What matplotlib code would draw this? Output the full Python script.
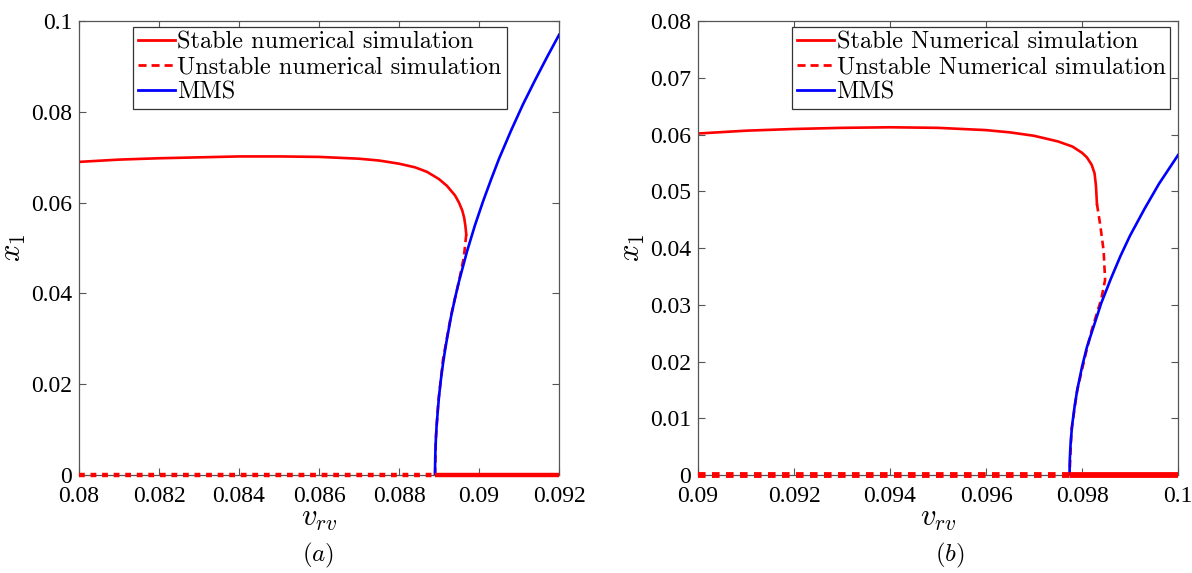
import matplotlib.pyplot as plt

plt.rcParams['mathtext.fontset'] = 'cm'
plt.rcParams['font.family'] = 'serif'
plt.rcParams['font.serif'] = ['Liberation Serif', 'DejaVu Serif']

# (a) stable upper branch (numerical continuation)
a_stable_x = [0.0800, 0.0810, 0.0820, 0.0830, 0.0840, 0.0850, 0.0860, 0.0865, 0.0870,
              0.0875, 0.0880, 0.0884, 0.0887, 0.0890, 0.0892, 0.0894, 0.0895,
              0.08958, 0.08963, 0.08966, 0.08968]
a_stable_y = [0.0690, 0.0695, 0.0698, 0.0700, 0.0702, 0.0702, 0.0701, 0.0699, 0.0697,
              0.0693, 0.0686, 0.0678, 0.0668, 0.0652, 0.0637, 0.0616, 0.0600,
              0.0583, 0.0566, 0.0548, 0.0530]
# (a) unstable branch from the fold back to the Hopf point
a_unstable_x = [0.08968, 0.08962, 0.0895, 0.0893, 0.0891, 0.08898, 0.08892, 0.0889]
a_unstable_y = [0.0530, 0.0480, 0.0428, 0.0352, 0.0255, 0.0160, 0.0080, 0.0]
# (a) MMS amplitude
a_mms_x = [0.0889, 0.088902, 0.088905, 0.08891, 0.08892, 0.08894, 0.08897, 0.08900,
           0.08905, 0.08910, 0.08915, 0.0892, 0.0893, 0.0894, 0.0895, 0.0897, 0.0899,
           0.0901, 0.0903, 0.0905, 0.0908, 0.0911, 0.0914, 0.0917, 0.0920]
a_mms_y = [0.0, 0.0025, 0.0039, 0.0055, 0.0078, 0.0110, 0.0143, 0.0174,
           0.0213, 0.0246, 0.0275, 0.0301, 0.0349, 0.0390, 0.0427, 0.0493, 0.0551,
           0.0603, 0.0651, 0.0697, 0.0759, 0.0817, 0.0870, 0.0921, 0.0970]
# (a) trivial solution: unstable left of Hopf, stable right of it
a_triv_unst_x = [0.0800, 0.0889]
a_triv_stab_x = [0.0889, 0.0920]

# (b)
b_stable_x = [0.0900, 0.0910, 0.0920, 0.0930, 0.0940, 0.0950, 0.0960, 0.0965, 0.0970,
              0.0975, 0.0978, 0.0980, 0.0981, 0.0982, 0.09826, 0.09829, 0.09831]
b_stable_y = [0.0602, 0.0607, 0.0610, 0.0612, 0.0613, 0.0612, 0.0608, 0.0604, 0.0598,
              0.0588, 0.0579, 0.0568, 0.0560, 0.0547, 0.0532, 0.0510, 0.0478]
b_unstable_x = [0.09831, 0.09838, 0.09845, 0.09848, 0.0984, 0.0982, 0.0981,
                0.0979, 0.09778, 0.09774]
b_unstable_y = [0.0478, 0.0440, 0.0395, 0.0344, 0.0310, 0.0255, 0.0222,
                0.0150, 0.0080, 0.0]
b_mms_x = [0.09774, 0.097742, 0.097745, 0.09775, 0.09776, 0.09778, 0.0978, 0.09785,
           0.0979, 0.0980, 0.0981, 0.0982, 0.0984, 0.0986, 0.0988, 0.0990, 0.0993,
           0.0996, 0.1000]
b_mms_y = [0.0, 0.0017, 0.0027, 0.0037, 0.0053, 0.0075, 0.0092, 0.0124,
           0.0150, 0.0191, 0.0225, 0.0251, 0.0303, 0.0346, 0.0386, 0.0422, 0.0469,
           0.0513, 0.0564]
b_triv_unst_x = [0.0900, 0.09774]
b_triv_stab_x = [0.09774, 0.1000]

a_xticks = [0.08, 0.082, 0.084, 0.086, 0.088, 0.09, 0.092]
a_xlabels = ['0.08', '0.082', '0.084', '0.086', '0.088', '0.09', '0.092']
a_yticks = [0, 0.02, 0.04, 0.06, 0.08, 0.1]
a_ylabels = ['0', '0.02', '0.04', '0.06', '0.08', '0.1']
b_xticks = [0.09, 0.092, 0.094, 0.096, 0.098, 0.1]
b_xlabels = ['0.09', '0.092', '0.094', '0.096', '0.098', '0.1']
b_yticks = [0, 0.01, 0.02, 0.03, 0.04, 0.05, 0.06, 0.07, 0.08]
b_ylabels = ['0', '0.01', '0.02', '0.03', '0.04', '0.05', '0.06', '0.07', '0.08']

fig = plt.figure(figsize=(11.92, 5.73), dpi=100)
ax1 = fig.add_axes([0.0663, 0.171, 0.4027, 0.792])
ax2 = fig.add_axes([0.5856, 0.171, 0.4027, 0.792])


def panel(ax, sx, sy, ux, uy, mx, my, tu, ts, names, xt, xl, yt, yl, ylim,
          triv_lw, triv_dash, leg_anchor):
    ax.plot(sx, sy, color='red', lw=1.9, label=names[0])
    ax.plot(ux, uy, color='red', lw=1.9, ls=(0, (2.9, 1.8)), label=names[1])
    ax.plot(mx, my, color='blue', lw=1.9, label='MMS', zorder=3)
    # trivial branch sits on the x axis, drawn over the spine
    ax.plot(tu, [0] * len(tu), color='red', lw=triv_lw, ls=(0, triv_dash),
            dash_capstyle='butt', clip_on=False, zorder=4)
    ax.plot(ts, [0] * len(ts), color='red', lw=triv_lw, solid_capstyle='butt',
            clip_on=False, zorder=4)

    ax.set_xlim(xt[0], xt[-1])
    ax.set_ylim(*ylim)
    ax.set_xticks(xt, xl)
    ax.set_yticks(yt, yl)
    ax.tick_params(direction='in', length=5, width=0.8, color='#555555',
                   top=True, right=True, labelsize=17)
    ax.tick_params(axis='x', pad=8)
    ax.tick_params(axis='y', pad=5)
    for s in ax.spines.values():
        s.set_color('#555555')
        s.set_linewidth(0.9)
    ax.set_xlabel(r'$v_{rv}$', fontsize=22, labelpad=-2)
    ax.set_ylabel(r'$x_1$', fontsize=22, labelpad=2)

    leg = ax.legend(loc='upper right', bbox_to_anchor=leg_anchor,
                    borderaxespad=0, prop={'family': 'cmr10', 'size': 17.5},
                    handlelength=1.5, handletextpad=0.12, labelspacing=0.12,
                    borderpad=0.2, fancybox=False, framealpha=1)
    leg.get_frame().set_edgecolor('#333333')
    leg.get_frame().set_linewidth(0.9)
    for h in leg.get_lines():
        h.set_linewidth(2.0)


panel(ax1, a_stable_x, a_stable_y, a_unstable_x, a_unstable_y, a_mms_x, a_mms_y,
      a_triv_unst_x, a_triv_stab_x,
      ['Stable numerical simulation', 'Unstable numerical simulation'],
      a_xticks, a_xlabels, a_yticks, a_ylabels, (0, 0.1), 3.2, (1.3, 1.3),
      (0.891, 0.988))
panel(ax2, b_stable_x, b_stable_y, b_unstable_x, b_unstable_y, b_mms_x, b_mms_y,
      b_triv_unst_x, b_triv_stab_x,
      ['Stable Numerical simulation', 'Unstable Numerical simulation'],
      b_xticks, b_xlabels, b_yticks, b_ylabels, (0, 0.08), 4.2, (1.3, 1.1),
      (0.984, 0.988))

fig.text(0.267, 0.031, r'$(a)$', fontsize=18, ha='center', va='center')
fig.text(0.797, 0.031, r'$(b)$', fontsize=18, ha='center', va='center')

fig.savefig('out.png', dpi=100)
